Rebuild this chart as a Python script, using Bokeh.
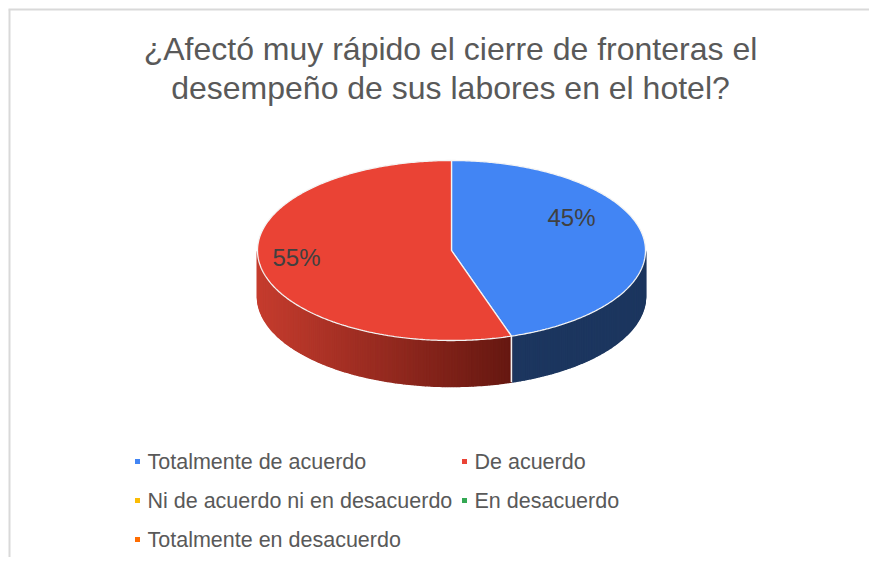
import numpy as np
from bokeh.plotting import figure
from bokeh.models import Range1d
from bokeh.core.properties import value
from bokeh.embed import file_html
from bokeh.resources import INLINE

# ---- data ----
title_lines = ["¿Afectó muy rápido el cierre de fronteras el",
               "desempeño de sus labores en el hotel?"]
categories = ["Totalmente de acuerdo", "De acuerdo",
              "Ni de acuerdo ni en desacuerdo", "En desacuerdo",
              "Totalmente en desacuerdo"]
values = [45, 55, 0, 0, 0]
labels = ["45%", "55%", "", "", ""]
top_colors = ["#4285F4", "#EA4335", "#FBBC04", "#34A853", "#FF6D01"]
side_light = ["#1C365F", "#C53C2E", "#B58A03", "#22703A", "#B54D01"]
side_dark = ["#1C365F", "#661811", "#7A5D02", "#174B27", "#7A3401"]

# ---- layout ----
W, H = 869, 557
FONT = value("Liberation Sans")
cx, cy, rx, ry, depth = 451.0, 307.0, 194.0, 90.0, 46.0
label_offsets = [(120, 33), (-155, -7), (0, 0), (0, 0), (0, 0)]

p = figure(width=W, height=H, output_backend="svg", toolbar_location=None,
           x_range=Range1d(0, W), y_range=Range1d(0, H), min_border=0)
p.axis.visible = False
p.grid.visible = False
p.outline_line_color = None
p.background_fill_color = "white"
p.border_fill_color = "white"

# frame (top and left edges of the chart area)
p.segment(x0=[8, 9], y0=[548, 0], x1=[W, 9], y1=[548, 548],
          line_color="#D9D9D9", line_width=2)

def hexmix(c1, c2, t):
    a = [int(c1[i:i + 2], 16) for i in (1, 3, 5)]
    b = [int(c2[i:i + 2], 16) for i in (1, 3, 5)]
    return "#%02x%02x%02x" % tuple(int(round(a[k] + (b[k] - a[k]) * t)) for k in range(3))

total = float(sum(values))
start = np.pi / 2
spans = []
for v in values:
    sweep = v / total * 2 * np.pi
    spans.append((start, start - sweep))
    start -= sweep

# ---- sides ----
sx, sy, sc = [], [], []
boundaries = []
for i, (a0, a1) in enumerate(spans):
    if a0 == a1:
        continue
    angs = np.linspace(a0, a1, 240)
    vis = []
    for k in range(len(angs) - 1):
        am = 0.5 * (angs[k] + angs[k + 1])
        if np.sin(am) < 0:
            vis.append((angs[k], angs[k + 1]))
    if not vis:
        continue
    xs_all = [cx + rx * np.cos(0.5 * (u + w)) for u, w in vis]
    xmin, xmax = min(xs_all), max(xs_all)
    for (u, w), xm in zip(vis, xs_all):
        t = 0 if xmax == xmin else (xm - xmin) / (xmax - xmin)
        col = hexmix(side_light[i], side_dark[i], t)
        px = [cx + rx * np.cos(u), cx + rx * np.cos(w), cx + rx * np.cos(w), cx + rx * np.cos(u)]
        py = [cy + ry * np.sin(u), cy + ry * np.sin(w), cy + ry * np.sin(w) - depth, cy + ry * np.sin(u) - depth]
        sx.append(px); sy.append(py); sc.append(col)
    for a in (a0, a1):
        if np.sin(a) < -0.01:
            boundaries.append(a)
p.patches(sx, sy, fill_color=sc, line_color=sc, line_width=1.5)
if boundaries:
    bx0 = [cx + rx * np.cos(a) for a in boundaries]
    by0 = [cy + ry * np.sin(a) for a in boundaries]
    by1 = [cy + ry * np.sin(a) - depth for a in boundaries]
    p.segment(x0=bx0, y0=by0, x1=bx0, y1=by1, line_color="#F2F2F2", line_width=1.3)

# ---- tops ----
tx, ty, tc = [], [], []
for i, (a0, a1) in enumerate(spans):
    if a0 == a1:
        continue
    angs = np.linspace(a0, a1, 300)
    tx.append([cx] + list(cx + rx * np.cos(angs)))
    ty.append([cy] + list(cy + ry * np.sin(angs)))
    tc.append(top_colors[i])
p.patches(tx, ty, fill_color=tc, line_color="#F4F4F4", line_width=1.3)

# ---- data labels ----
lx, ly, lt = [], [], []
for i, (a0, a1) in enumerate(spans):
    if values[i] == 0:
        continue
    lx.append(cx + label_offsets[i][0]); ly.append(cy + label_offsets[i][1]); lt.append(labels[i])
p.text(lx, ly, text=lt, text_font=FONT, text_font_size="24px", text_color="#404040",
       text_align="center", text_baseline="middle")

# ---- title ----
p.text([450, 450], [509, 470], text=title_lines, text_font=FONT, text_font_size="32px",
       text_color="#595959", text_align="center", text_baseline="middle")

# ---- legend ----
col_x = [137, 464]
row_y = [96, 57, 18]
mx, my = [], []
for k, c in enumerate(categories):
    mx.append(col_x[k % 2]); my.append(row_y[k // 2])
p.scatter(mx, my, marker="square", size=5, fill_color=top_colors, line_color=None)
p.text([x + 10 for x in mx], my, text=categories, text_font=FONT, text_font_size="21.5px",
       text_color="#595959", text_align="left", text_baseline="middle")

open("out.html", "w").write(file_html(p, INLINE))
